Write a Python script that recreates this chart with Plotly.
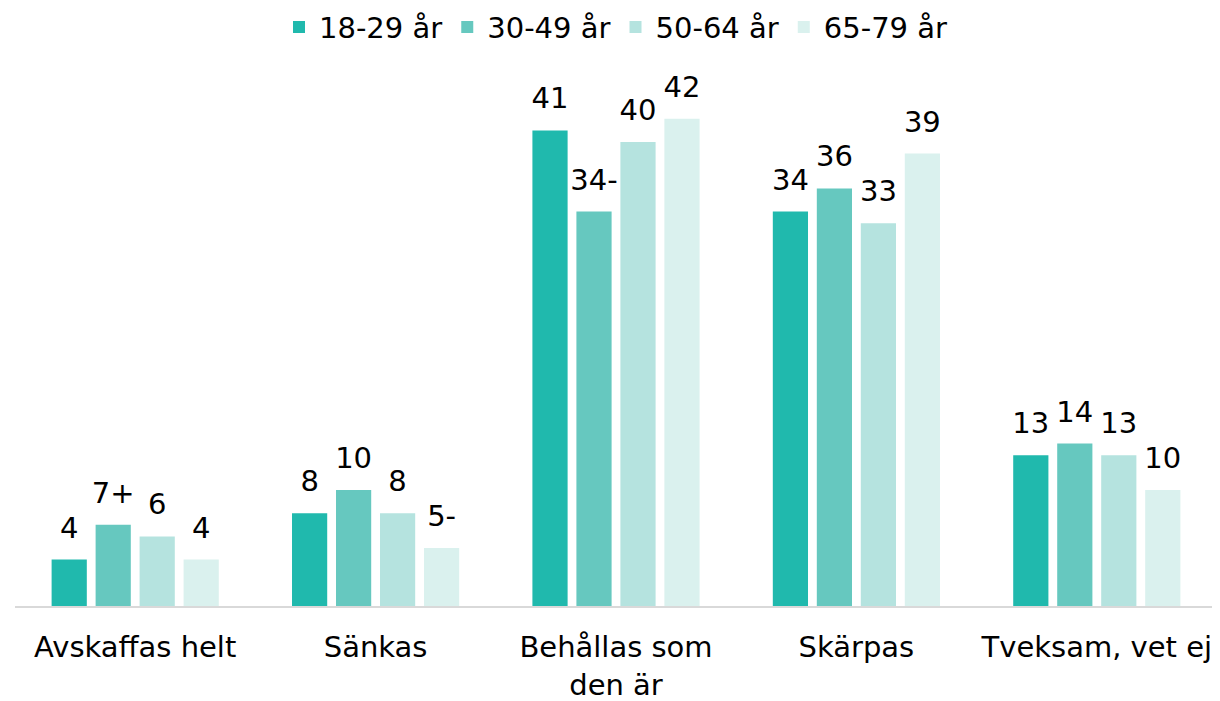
import plotly.graph_objects as go

categories = ["Avskaffas helt", "Sänkas", "Behållas som<br>den är", "Skärpas", "Tveksam, vet ej"]
series_names = ["18-29 år", "30-49 år", "50-64 år", "65-79 år"]
values_18_29 = [4, 8, 41, 34, 13]
values_30_49 = [7, 10, 34, 36, 14]
values_50_64 = [6, 8, 40, 33, 13]
values_65_79 = [4, 5, 42, 39, 10]
labels_18_29 = ["4", "8", "41", "34", "13"]
labels_30_49 = ["7+", "10", "34-", "36", "14"]
labels_50_64 = ["6", "8", "40", "33", "13"]
labels_65_79 = ["4", "5-", "42", "39", "10"]
colors = ["#20B9AD", "#66C8BF", "#B5E3DF", "#DAF1EE"]

FONT = "DejaVu Sans, sans-serif"
FS = 29

all_vals = [values_18_29, values_30_49, values_50_64, values_65_79]
all_labs = [labels_18_29, labels_30_49, labels_50_64, labels_65_79]

fig = go.Figure()
for name, vals, col in zip(series_names, all_vals, colors):
    fig.add_trace(go.Bar(
        name=name, x=categories, y=vals,
        marker=dict(color=col, line=dict(width=0)),
        hoverinfo="skip",
    ))
for name, vals, labs in zip(series_names, all_vals, all_labs):
    fig.add_trace(go.Scatter(
        x=categories, y=vals, text=labs, mode="markers+text",
        textposition="top center", cliponaxis=False,
        marker=dict(size=22, opacity=0),
        textfont=dict(size=FS, color="#000000", family=FONT),
        showlegend=False, hoverinfo="skip",
    ))

fig.update_layout(
    width=1220, height=701,
    margin=dict(l=7, r=11, t=76, b=103, autoexpand=False),
    paper_bgcolor="white", plot_bgcolor="white",
    barmode="group", bargap=0.268, bargroupgap=0.2,
    scattermode="group", scattergap=0.268,
    font=dict(family=FONT, size=FS, color="#000000"),
    showlegend=True,
    legend=dict(orientation="h", x=0.5, xanchor="center", y=1.109, yanchor="middle",
                font=dict(size=FS, family=FONT), itemwidth=30, traceorder="normal"),
    xaxis=dict(showgrid=False, showline=True, linecolor="#D9D9D9", linewidth=2,
               ticks="", tickfont=dict(size=FS, family=FONT), ticklabelstandoff=14,
               automargin=False),
    yaxis=dict(range=[0, 45], visible=False, showgrid=False, automargin=False),
)

fig.write_html("out.html")
